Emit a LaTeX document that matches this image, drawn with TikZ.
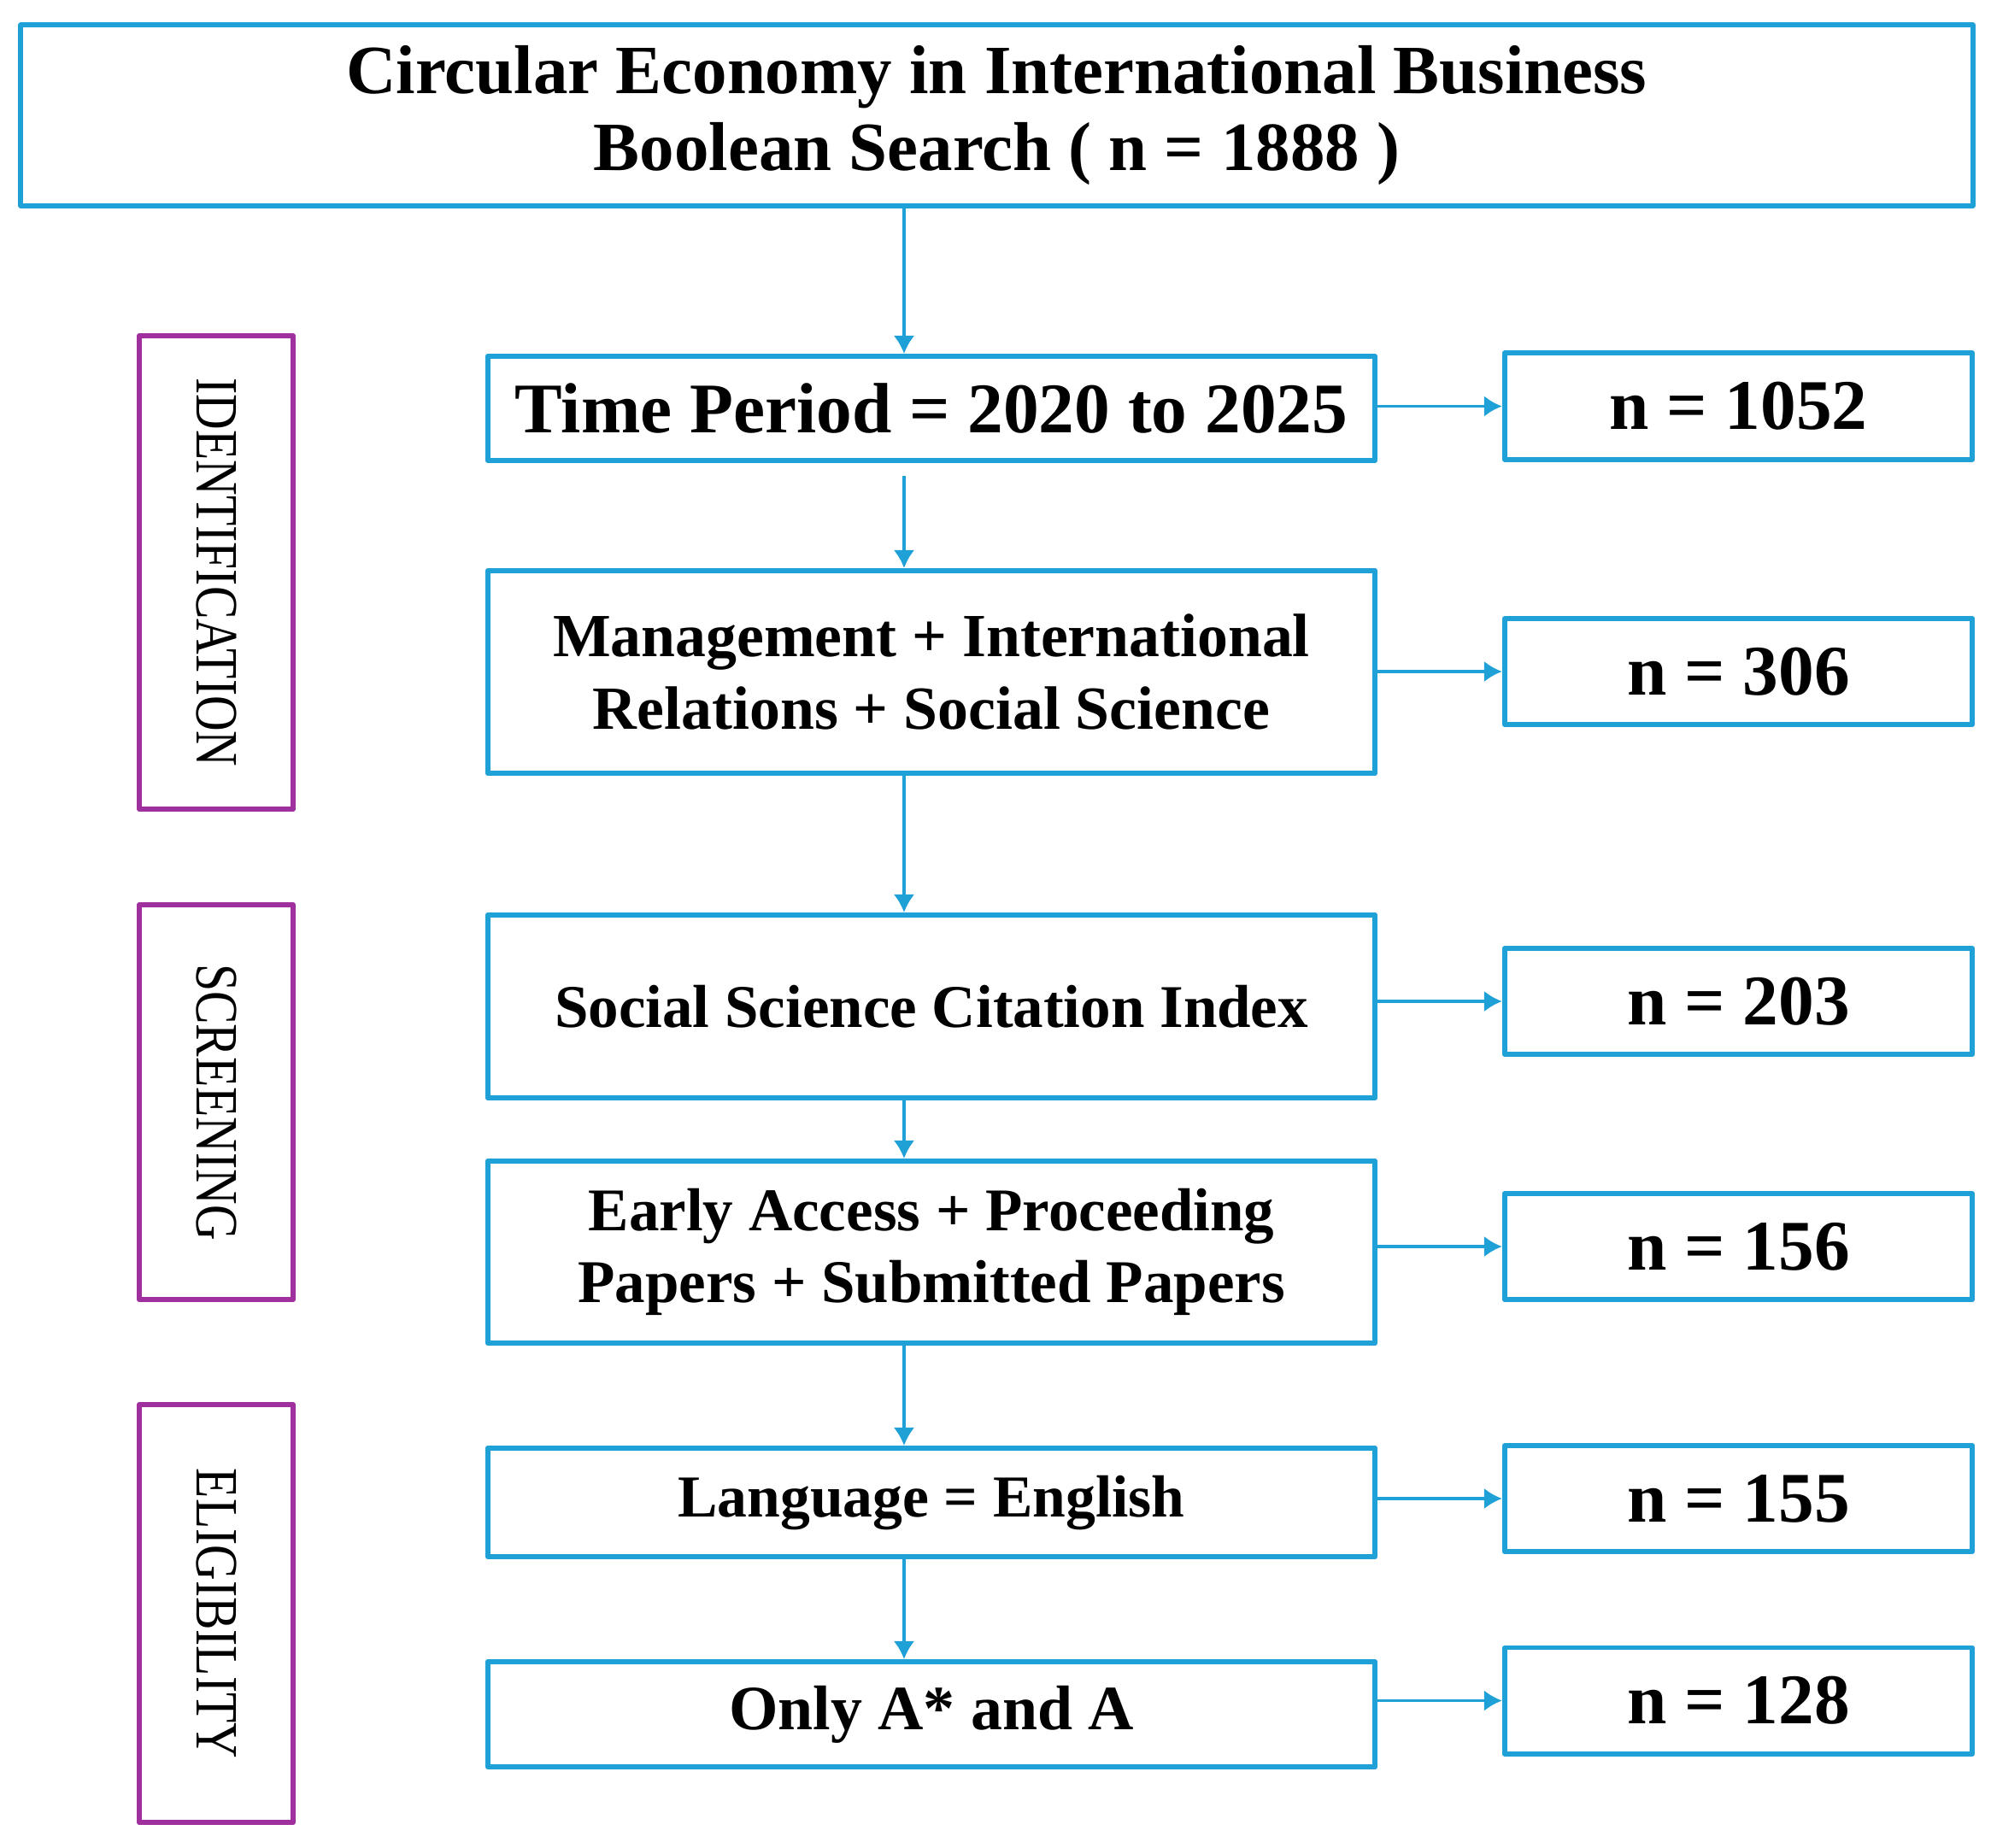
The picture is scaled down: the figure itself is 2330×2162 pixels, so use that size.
\documentclass[tikz,border=0pt]{standalone}
\usepackage{fontspec}
\setmainfont{Liberation Serif}
\usetikzlibrary{arrows.meta}
\definecolor{flowblue}{RGB}{31,160,214}
\definecolor{stagepurple}{RGB}{160,48,158}
\tikzset{
  mainbox/.style={draw=flowblue, line width=1.7pt, minimum width=10.38cm, align=center, inner sep=0pt, font=\bfseries},
  countbox/.style={draw=flowblue, line width=1.7pt, minimum width=5.47cm, minimum height=1.24cm, inner sep=0pt, font=\bfseries\fontsize{23.7}{28}\selectfont},
  stagebox/.style={draw=stagepurple, line width=1.6pt, minimum height=1.8cm, rotate=-90, inner sep=0pt, font=\fontsize{20}{24}\selectfont},
  flow/.style={->, draw=flowblue, line width=1pt}
}
\newcommand{\stagetext}[1]{\scalebox{0.82}[1]{#1}}
\begin{document}
\begin{tikzpicture}[x=0.01cm, y=0.01cm, >={Latex[length=6pt,width=7pt]}, line join=round]
  \useasboundingbox (0,0) rectangle (2330,-2162);
  \coordinate (spine) at (1058,0);
  % main column
  \node[mainbox, minimum width=22.83cm, minimum height=2.11cm, font=\bfseries\fontsize{23}{25.5}\selectfont] (top) at (1166.5,-135) {Circular Economy in International Business\\Boolean Search ( n = 1888 )};
  \node[mainbox, minimum height=1.22cm, font=\bfseries\fontsize{23.7}{28}\selectfont] (time) at (1090,-478) {Time Period = 2020 to 2025};
  \node[mainbox, minimum height=2.37cm, font=\bfseries\fontsize{20.4}{24}\selectfont] (mgmt) at (1090,-786.5) {Management + International\\Relations + Social Science};
  \node[mainbox, minimum height=2.14cm, font=\bfseries\fontsize{20.2}{24}\selectfont] (ssci) at (1090,-1178) {Social Science Citation Index};
  \node[mainbox, minimum height=2.13cm, font=\bfseries\fontsize{20.2}{24}\selectfont] (early) at (1090,-1465.5) {Early Access + Proceeding\\Papers + Submitted Papers};
  \node[mainbox, minimum height=1.27cm, font=\bfseries\fontsize{19.8}{24}\selectfont] (lang) at (1090,-1758.5) {Language = English};
  \node[mainbox, minimum height=1.23cm, font=\bfseries\fontsize{21}{25}\selectfont] (only) at (1090,-2006.5) {Only A* and A};
  % counts
  \node[countbox] (cnt1) at (2034.5,-475.5) {n = 1052};
  \node[countbox] (cnt2) at (2034.5,-786) {n = 306};
  \node[countbox] (cnt3) at (2034.5,-1172) {n = 203};
  \node[countbox] (cnt4) at (2034.5,-1459) {n = 156};
  \node[countbox] (cnt5) at (2034.5,-1754) {n = 155};
  \node[countbox] (cnt6) at (2034.5,-1990.5) {n = 128};
  % stages
  \node[stagebox, minimum width=5.54cm] (ident) at (253,-670) {\stagetext{IDENTIFICATION}};
  \node[stagebox, minimum width=4.62cm] (screen) at (253,-1290) {\stagetext{SCREENING}};
  \node[stagebox, minimum width=4.89cm] (elig) at (253,-1888.5) {\stagetext{ELIGIBILITY}};
  % arrows down
  \draw[flow] (top.south -| spine) -- (time.north -| spine);
  \draw[flow] ([yshift=-0.15cm]time.south -| spine) -- (mgmt.north -| spine);
  \draw[flow] (mgmt.south -| spine) -- (ssci.north -| spine);
  \draw[flow] (ssci.south -| spine) -- (early.north -| spine);
  \draw[flow] (early.south -| spine) -- (lang.north -| spine);
  \draw[flow] (lang.south -| spine) -- (only.north -| spine);
  % arrows right
  \draw[flow] (cnt1.west -| time.east) -- (cnt1.west);
  \draw[flow] (cnt2.west -| mgmt.east) -- (cnt2.west);
  \draw[flow] (cnt3.west -| ssci.east) -- (cnt3.west);
  \draw[flow] (cnt4.west -| early.east) -- (cnt4.west);
  \draw[flow] (cnt5.west -| lang.east) -- (cnt5.west);
  \draw[flow] (cnt6.west -| only.east) -- (cnt6.west);
\end{tikzpicture}
\end{document}
